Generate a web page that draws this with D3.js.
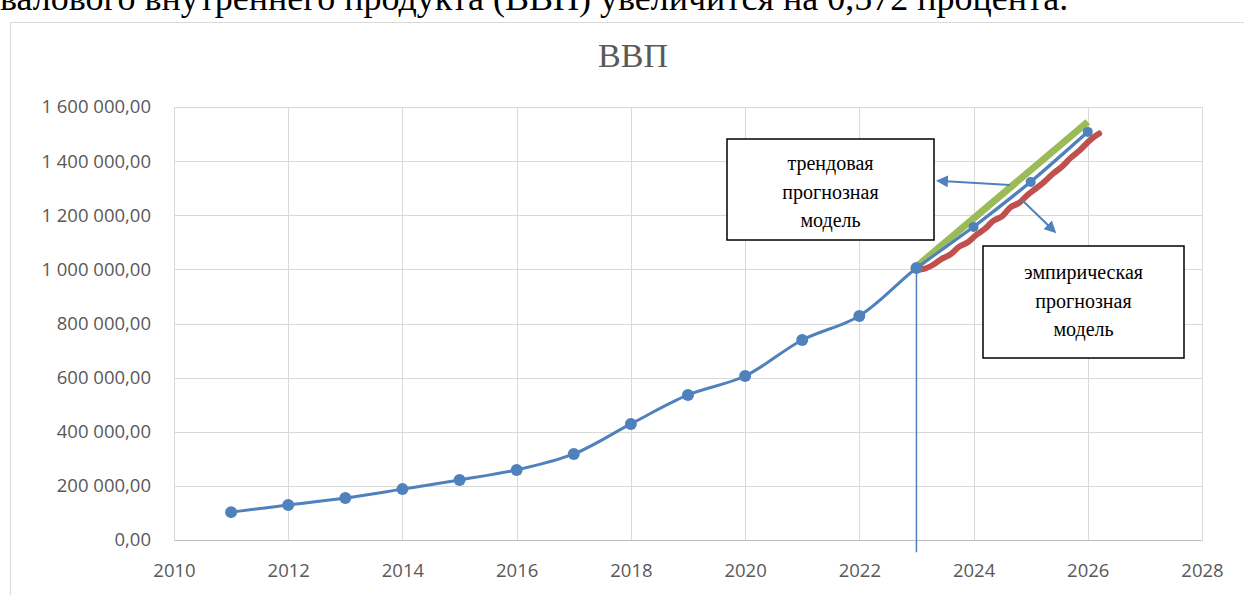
<!DOCTYPE html>
<html>
<head>
  <meta charset="utf-8">
  <title>ВВП</title>
  <script src="https://cdn.jsdelivr.net/npm/d3@7"></script>
  <style>
    body { margin: 0; background: #fff; }
  </style>
</head>
<body>
<svg id="chart"></svg>
<script>
// main series (actual + forecast points)
var years = [2011, 2012, 2013, 2014, 2015, 2016, 2017, 2018, 2019, 2020, 2021, 2022, 2023, 2024, 2025, 2026];
var gdp = [103000, 129000, 155000, 188000, 222000, 259000, 318000, 429000, 536000, 606000, 739000, 828000, 1005000, 1157000, 1323000, 1508000];

// trend forecast (green straight line)
var trendYears = [2023, 2026];
var trendVals = [1010000, 1545000];

// empirical forecast (red, uneven)
var empYears = [2023, 2023.15, 2023.3, 2023.45, 2023.6, 2023.75, 2023.9, 2024.05, 2024.2, 2024.35, 2024.5,
  2024.65, 2024.8, 2024.95, 2025.1, 2025.25, 2025.4, 2025.55, 2025.7, 2025.85, 2026, 2026.1, 2026.2];
var empVals = [1000000, 1003000, 1018000, 1040000, 1056000, 1084000, 1100000, 1128000, 1150000, 1180000, 1196000,
  1230000, 1246000, 1276000, 1300000, 1326000, 1355000, 1380000, 1412000, 1438000, 1470000, 1488000, 1502000];

var xTicks = [2010, 2012, 2014, 2016, 2018, 2020, 2022, 2024, 2026, 2028];
var yTicks = [0, 200000, 400000, 600000, 800000, 1000000, 1200000, 1400000, 1600000];

var W = 1244, H = 595;
var svg = d3.select("#chart").attr("width", W).attr("height", H);

// clipped sentence above the chart
svg.append("text")
  .attr("x", 0).attr("y", 10)
  .attr("font-family", "Liberation Serif, serif")
  .attr("font-size", 36)
  .attr("fill", "#000")
  .text("валового внутреннего продукта (ВВП) увеличится на 0,572 процента.");

// chart frame
svg.append("rect")
  .attr("x", 10.5).attr("y", 22.5)
  .attr("width", 1260).attr("height", 600)
  .attr("fill", "#fff").attr("stroke", "#d9d9d9");

var x = d3.scaleLinear().domain([2010, 2028]).range([174, 1202]);
var y = d3.scaleLinear().domain([0, 1600000]).range([540, 107]);

svg.append("text")
  .attr("x", 633).attr("y", 67)
  .attr("text-anchor", "middle")
  .attr("font-family", "Liberation Serif, serif")
  .attr("font-size", 34)
  .attr("fill", "#595959")
  .text("ВВП");

// grid
var grid = svg.append("g").attr("stroke", "#d9d9d9").attr("stroke-width", 1);
grid.selectAll("line.h").data(yTicks).join("line")
  .attr("x1", x(2010)).attr("x2", x(2028))
  .attr("y1", d => Math.round(y(d)) + 0.5).attr("y2", d => Math.round(y(d)) + 0.5);
grid.selectAll("line.v").data(xTicks).join("line")
  .attr("y1", y(0)).attr("y2", y(1600000))
  .attr("x1", d => Math.round(x(d)) + 0.5).attr("x2", d => Math.round(x(d)) + 0.5);

var fmt = function(d) {
  return d3.format(",.2f")(d).replace(/,/g, " ").replace(".", ",");
};

var yAxis = svg.append("g")
  .attr("transform", "translate(" + x(2010) + ",0)")
  .call(d3.axisLeft(y).tickValues(yTicks).tickFormat(fmt).tickSize(0).tickPadding(23));
yAxis.select(".domain").remove();
yAxis.selectAll("text")
  .attr("font-family", "Open Sans, sans-serif")
  .attr("font-size", 18.5)
  .attr("fill", "#595959");

var xAxis = svg.append("g")
  .attr("transform", "translate(0," + y(0) + ")")
  .call(d3.axisBottom(x).tickValues(xTicks).tickFormat(d3.format("d")).tickSize(0).tickPadding(24));
xAxis.select(".domain").attr("stroke", "#bfbfbf");
xAxis.selectAll("text")
  .attr("font-family", "Open Sans, sans-serif")
  .attr("font-size", 18.5)
  .attr("fill", "#595959");

// vertical marker at 2023
svg.append("line")
  .attr("x1", x(2023)).attr("x2", x(2023))
  .attr("y1", y(1005000)).attr("y2", y(-45000))
  .attr("stroke", "#4f81bd").attr("stroke-width", 1.5);

// main line
var line = d3.line().x((d, i) => x(years[i])).y(d => y(d)).curve(d3.curveCatmullRom.alpha(0.5));
svg.append("path")
  .attr("d", line(gdp))
  .attr("fill", "none").attr("stroke", "#4f81bd").attr("stroke-width", 3);

// trend line
svg.append("path")
  .attr("d", d3.line().x((d, i) => x(trendYears[i])).y(d => y(d))(trendVals))
  .attr("fill", "none").attr("stroke", "#9bbb59").attr("stroke-width", 7);

// empirical line
svg.append("path")
  .attr("d", d3.line().x((d, i) => x(empYears[i])).y(d => y(d)).curve(d3.curveCatmullRom)(empVals))
  .attr("fill", "none").attr("stroke", "#c0504d").attr("stroke-width", 6)
  .attr("stroke-linejoin", "round").attr("stroke-linecap", "round");

// redraw forecast part of blue line on top
svg.append("path")
  .attr("d", d3.line().x((d, i) => x(years[i + 12])).y(d => y(d))(gdp.slice(12)))
  .attr("fill", "none").attr("stroke", "#4f81bd").attr("stroke-width", 3);

svg.selectAll("circle.pt").data(gdp).join("circle")
  .attr("cx", (d, i) => x(years[i])).attr("cy", d => y(d))
  .attr("r", (d, i) => i > 12 ? 5 : 6).attr("fill", "#4f81bd");

// arrows
var defs = svg.append("defs");
defs.append("marker")
  .attr("id", "arr").attr("viewBox", "0 0 10 10")
  .attr("refX", 5).attr("refY", 5)
  .attr("markerWidth", 6).attr("markerHeight", 6)
  .attr("orient", "auto")
  .append("path").attr("d", "M0,0 L10,5 L0,10 z").attr("fill", "#4f81bd");

svg.append("line")
  .attr("x1", 1010).attr("y1", 185).attr("x2", 942).attr("y2", 181)
  .attr("stroke", "#4f81bd").attr("stroke-width", 2).attr("marker-end", "url(#arr)");
svg.append("line")
  .attr("x1", 1022).attr("y1", 200).attr("x2", 1052).attr("y2", 229)
  .attr("stroke", "#4f81bd").attr("stroke-width", 2).attr("marker-end", "url(#arr)");

// text boxes
function box(bx, by, bw, bh, lines, ly) {
  svg.append("rect")
    .attr("x", bx).attr("y", by).attr("width", bw).attr("height", bh)
    .attr("fill", "#fff").attr("stroke", "#000").attr("stroke-width", 1.5);
  svg.append("text")
    .attr("font-family", "Liberation Serif, serif")
    .attr("font-size", 20)
    .attr("text-anchor", "middle")
    .selectAll("tspan").data(lines).join("tspan")
    .attr("x", bx + bw / 2)
    .attr("y", (d, i) => ly + i * 28.5)
    .text(d => d);
}
box(727, 139, 207, 101, ["трендовая", "прогнозная", "модель"], 170);
box(983, 246, 201, 112, ["эмпирическая", "прогнозная", "модель"], 279);
</script>
</body>
</html>
